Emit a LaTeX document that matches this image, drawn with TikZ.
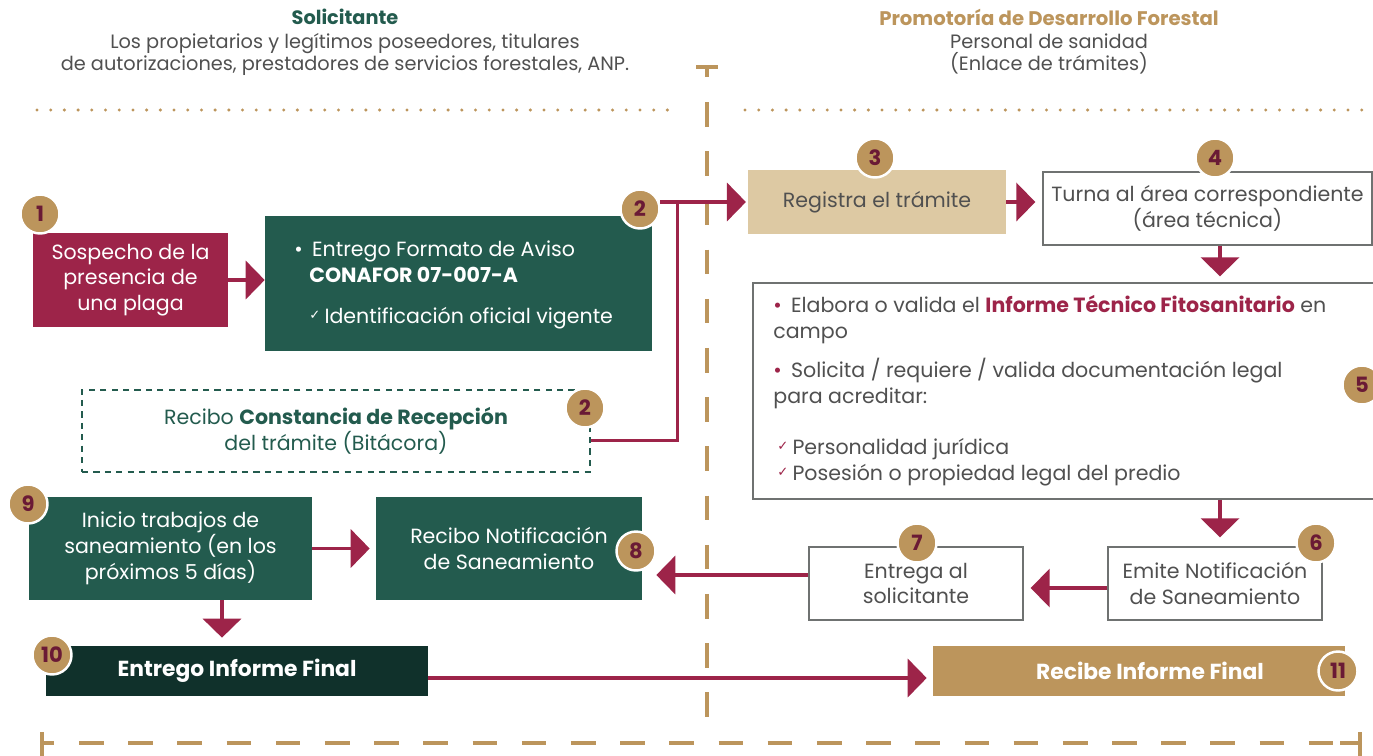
\documentclass[tikz,border=0pt]{standalone}
\usepackage{fontspec}
\setmainfont{Poppins}
\newfontfamily\simbolos{DejaVu Sans}
\usetikzlibrary{arrows.meta}

\definecolor{guinda}{HTML}{9D2449}
\definecolor{guindaosc}{HTML}{6A1A35}
\definecolor{verde}{HTML}{235B4E}
\definecolor{verdeosc}{HTML}{10312B}
\definecolor{dorado}{HTML}{BC955C}
\definecolor{doradocl}{HTML}{DDC9A3}
\definecolor{gris}{HTML}{505050}
\definecolor{borde}{HTML}{6F7271}

\newcommand{\palomita}[1]{\raisebox{0.35ex}{\textcolor{#1}{\simbolos\fontsize{7.5}{7.5}\selectfont ✓}}}

\begin{document}
\begin{tikzpicture}[x=0.02cm, y=-0.02cm,
	caja/.style={rectangle, inner sep=0pt, align=center, font={\fontsize{11.7}{14.7}\selectfont}},
	cajaguinda/.style={caja, fill=guinda, text=white},
	cajaverde/.style={caja, fill=verde, text=white},
	cajablanca/.style={caja, draw=borde, line width=0.8pt, fill=white, text=gris},
	cajadorada/.style={caja, fill=doradocl, text=gris},
	cajapunteada/.style={caja, draw=verde, line width=0.9pt, dash pattern=on 3.5pt off 3pt, text=verde},
	renglon/.style={inner sep=0pt, anchor=base west, font={\fontsize{11.7}{14.7}\selectfont}},
	paso/.style={circle, fill=dorado, draw=white, line width=1.4pt, minimum size=0.78cm, inner sep=0pt, text=guindaosc, font={\fontsize{12}{12}\selectfont\bfseries}},
	flecha/.style={draw=guinda, line width=2.2pt, -{Triangle[length=0.38cm, width=0.76cm]}},
	linea/.style={draw=guinda, line width=1.7pt},
	punteado/.style={draw=dorado, line width=1.9pt, line cap=round, dash pattern=on 0pt off 7.8pt},
	divisor/.style={draw=dorado, line width=2pt, dash pattern=on 14pt off 14pt}]

	\useasboundingbox (0,0) rectangle (1373,755);

	% Encabezados
	\node[align=center, text=verde, font={\fontsize{11}{12}\selectfont\bfseries}] (titsol) at (345,17) {Solicitante};
	\node[align=center, text=gris, font={\fontsize{11}{12.5}\selectfont}] (descsol) at (345,54) {Los propietarios y legítimos poseedores, titulares\\de autorizaciones, prestadores de servicios forestales, ANP.};
	\node[align=center, text=dorado, font={\fontsize{11.2}{12}\selectfont\bfseries}] (titpro) at (1049,17) {Promotoría de Desarrollo Forestal};
	\node[align=center, text=gris, font={\fontsize{11}{12.5}\selectfont}] (descpro) at (1049,54) {Personal de sanidad\\(Enlace de trámites)};

	% Separadores
	\draw[punteado] (37,110) -- (668,110);
	\draw[punteado] (745,110) -- (1362,110);
	\draw[dorado, line width=2pt] (696,67) -- (718,67) (707,67) -- (707,77);
	\draw[divisor] (707,102) -- (707,728);
	\draw[divisor] (79,743) -- (1345,743);
	\draw[dorado, line width=2pt] (42,732) -- (42,757) (42,743) -- (54,743);
	\draw[dorado, line width=2pt] (1360,732) -- (1360,757) (1340,743) -- (1360,743);

	% Solicitante
	\node[cajaguinda, minimum width=3.9cm, minimum height=1.88cm] (sospecha) at (130.5,280) {Sospecho de la\\presencia de\\una plaga};
	\node[cajaverde, minimum width=7.74cm, minimum height=2.7cm] (formato) at (458.5,283.5) {};
	\node[renglon, text=white] (forma) at (294,256) {•\hspace{0.45em}Entrego Formato de Aviso};
	\node[renglon, text=white] (formb) at (309,282) {\bfseries CONAFOR 07-007-A};
	\node[renglon, text=white] (formc) at (309,323) {\palomita{white}\hspace{0.2em}Identificación oficial vigente};
	\node[cajapunteada, minimum width=10.16cm, minimum height=1.64cm] (constancia) at (336,431) {Recibo \textbf{Constancia de Recepción}\\del trámite (Bitácora)};

	% Promotoria
	\node[cajadorada, minimum width=5.16cm, minimum height=1.28cm] (registra) at (877,202) {Registra el trámite};
	\node[cajablanca, minimum width=6.58cm, minimum height=1.46cm] (turna) at (1207.5,208.5) {Turna al área correspondiente\\(área técnica)};
	\node[cajablanca, minimum width=12.54cm, minimum height=4.32cm] (elabora) at (1066.5,391) {};
	\node[renglon, text=gris] (elaa) at (773,312) {\textcolor{guinda}{•}\hspace{0.45em}Elabora o valida el \textcolor{guinda}{\bfseries Informe Técnico Fitosanitario} en};
	\node[renglon, text=gris] (elab) at (773,338) {campo};
	\node[renglon, text=gris] (elac) at (773,377) {\textcolor{guinda}{•}\hspace{0.45em}Solicita / requiere / valida documentación legal};
	\node[renglon, text=gris] (elad) at (773,403) {para acreditar:};
	\node[renglon, text=gris] (elae) at (777,454) {\palomita{guinda}\hspace{0.2em}Personalidad jurídica};
	\node[renglon, text=gris] (elaf) at (777,480) {\palomita{guinda}\hspace{0.2em}Posesión o propiedad legal del predio};
	\node[cajablanca, minimum width=4.28cm, minimum height=1.46cm] (emite) at (1215,583.5) {Emite Notificación\\de Saneamiento};
	\node[cajablanca, minimum width=4.28cm, minimum height=1.46cm] (entrega) at (916,583.5) {Entrega al\\solicitante};

	% Saneamiento
	\node[cajaverde, minimum width=5.32cm, minimum height=2.06cm] (recibon) at (509,548.5) {Recibo Notificación\\de Saneamiento};
	\node[cajaverde, minimum width=5.66cm, minimum height=2.06cm] (inicio) at (170.5,548.5) {Inicio trabajos de\\saneamiento (en los\\próximos 5 días)};
	\node[caja, fill=verdeosc, text=white, font={\fontsize{12.4}{12}\selectfont\bfseries}, minimum width=7.64cm, minimum height=1cm] (entregaf) at (237,671) {Entrego Informe Final};
	\node[caja, fill=dorado, text=white, font={\fontsize{12.4}{12}\selectfont\bfseries}, minimum width=8.24cm, minimum height=1cm] (recibef) at (1139,671) {\hspace{0.44cm}Recibe Informe Final};

	% Conexiones
	\coordinate (union) at (677,202);
	\draw[flecha] (sospecha.east) -- (sospecha.east -| formato.west);
	\draw[linea] ([yshift=-0.18cm]constancia.east) -| (union);
	\draw[flecha, shorten >=1pt] (660,202) -- (union -| registra.west);
	\draw[flecha, shorten >=0.14cm] (registra.east) -- (registra.east -| turna.west);
	\draw[flecha, shorten >=0.12cm] ([xshift=0.25cm]turna.south) -- ([xshift=0.25cm]turna.south |- elabora.north);
	\draw[flecha, shorten >=0.18cm] ([xshift=0.1cm]emite.north |- elabora.south) -- ([xshift=0.1cm]emite.north);
	\draw[flecha, shorten >=0.14cm] ([yshift=-0.09cm]emite.west) -- ([yshift=-0.09cm]emite.west -| entrega.east);
	\draw[flecha, shorten >=0.28cm] ([yshift=0.17cm]entrega.west) -- ([yshift=0.17cm]entrega.west -| recibon.east);
	\draw[flecha, shorten >=0.12cm] (inicio.east) -- (recibon.west);
	\draw[flecha, shorten >=0.16cm] ([xshift=1.03cm]inicio.south) -- ([xshift=1.03cm]inicio.south |- entregaf.north);
	\draw[flecha, shorten >=0.12cm] ([yshift=-0.14cm]entregaf.east) -- ([yshift=-0.14cm]entregaf.east -| recibef.west);

	% Numeros de paso
	\node[paso] (p1) at (40,214) {1};
	\node[paso] (p2a) at (640,209) {2};
	\node[paso] (p2b) at (585,408) {2};
	\node[paso] (p3) at (875,158) {3};
	\node[paso] (p4) at (1215,158) {4};
	\node[paso] (p5) at (1362,385) {5};
	\node[paso] (p6) at (1316,543) {6};
	\node[paso] (p7) at (917,543) {7};
	\node[paso] (p8) at (636,551) {8};
	\node[paso] (p9) at (28,504) {9};
	\node[paso] (p10) at (52,655) {10};
	\node[paso] (p11) at (1338,671) {11};
\end{tikzpicture}
\end{document}
